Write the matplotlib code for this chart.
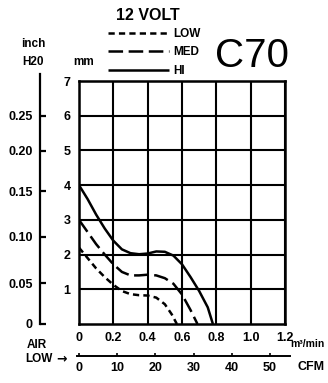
import matplotlib
matplotlib.use("Agg")
import matplotlib.pyplot as plt
from matplotlib.ticker import FixedLocator

plt.rcParams['font.family'] = ['Liberation Sans', 'DejaVu Sans']
plt.rcParams['lines.scale_dashes'] = False

# ---- data (airflow m3/min, static pressure mm H2O) ----
hi_x = [0.0, 0.05, 0.1, 0.15, 0.2, 0.25, 0.3, 0.35, 0.4, 0.45, 0.5, 0.55, 0.6, 0.65, 0.7, 0.75, 0.78]
hi_y = [4.0, 3.6, 3.15, 2.75, 2.4, 2.15, 2.04, 2.01, 2.03, 2.09, 2.08, 1.97, 1.72, 1.35, 0.95, 0.48, 0.0]
med_x = [0.0, 0.05, 0.1, 0.15, 0.2, 0.25, 0.3, 0.35, 0.4, 0.45, 0.5, 0.55, 0.6, 0.65, 0.69]
med_y = [3.0, 2.65, 2.3, 2.0, 1.72, 1.5, 1.4, 1.4, 1.42, 1.4, 1.32, 1.16, 0.85, 0.4, 0.0]
low_x = [0.0, 0.05, 0.1, 0.15, 0.2, 0.25, 0.3, 0.35, 0.4, 0.45, 0.5, 0.54, 0.57]
low_y = [2.2, 1.9, 1.6, 1.35, 1.13, 0.95, 0.86, 0.83, 0.82, 0.76, 0.57, 0.28, 0.0]

x_ticks = [0, 0.2, 0.4, 0.6, 0.8, 1.0, 1.2]
x_labels = ['0', '0.2', '0.4', '0.6', '0.8', '1.0', '1.2']
mm_ticks = [1, 2, 3, 4, 5, 6, 7]
inch_labels = ['0', '0.05', '0.10', '0.15', '0.20', '0.25']
inch_pos_mm = [0, 1.18, 2.52, 3.83, 4.99, 6.0]
cfm_ticks = [0, 10, 20, 30, 40, 50]

W, H = 328, 383
fig = plt.figure(figsize=(W / 100, H / 100), dpi=100)

def fx(px):
    return px / W

def fy(py):
    return 1 - py / H

# main axes
ax = fig.add_axes([fx(79), fy(324), fx(285) - fx(79), fy(81) - fy(324)])
ax.set_xlim(0, 1.2)
ax.set_ylim(0, 7)
ax.set_xticks(x_ticks)
ax.set_xticklabels(x_labels)
ax.set_yticks(mm_ticks)
ax.grid(True, color='black', linewidth=1.5)
for s in ax.spines.values():
    s.set_linewidth(1.8)
ax.tick_params(length=0, labelsize=9, pad=6)
ax.tick_params(axis='y', pad=6)
for lab in ax.get_xticklabels() + ax.get_yticklabels():
    lab.set_fontweight('bold')

l_low, = ax.plot(low_x, low_y, color='black', lw=1.8, dashes=(4.5, 3.0), label='LOW')
l_med, = ax.plot(med_x, med_y, color='black', lw=1.8, dashes=(10.5, 4.0), label='MED')
l_hi, = ax.plot(hi_x, hi_y, color='black', lw=1.8, label='HI')
for l in (l_low, l_med, l_hi):
    l.set_solid_capstyle('butt')
    l.set_dash_capstyle('butt')

# legend
leg = fig.legend(handles=[l_low, l_med, l_hi], loc='upper left',
                 bbox_to_anchor=(fx(108), fy(28)), frameon=False,
                 handlelength=5.2, handletextpad=0.3, labelspacing=0.55,
                 borderpad=0.0, borderaxespad=0.0,
                 prop={'weight': 'bold', 'size': 8.5})

# inch axis
axi = fig.add_axes([fx(39.5), fy(324), 0.02, fy(81) - fy(324)])
axi.set_ylim(0, 7)
axi.patch.set_visible(False)
for k in ('top', 'right', 'bottom'):
    axi.spines[k].set_visible(False)
axi.spines['left'].set_bounds(0, 7.2)
axi.spines['left'].set_linewidth(1.6)
axi.set_xticks([])
axi.yaxis.set_major_locator(FixedLocator(inch_pos_mm))
axi.set_yticklabels(inch_labels)
axi.yaxis.set_minor_locator(FixedLocator([0]))
axi.tick_params(axis='y', which='major', direction='in', length=4.5, width=1.6,
                labelsize=9, pad=5)
axi.tick_params(axis='y', which='minor', direction='out', length=4.5, width=1.6)
for lab in axi.get_yticklabels():
    lab.set_fontweight('bold')

# CFM axis
cfm_px_per = (270 - 79) / 50
cx0 = -0.6
cx1 = (290 - 79) / cfm_px_per
axc = fig.add_axes([fx(79 + cx0 * cfm_px_per), fy(356), fx(290) - fx(79 + cx0 * cfm_px_per), 0.0001])
axc.set_xlim(cx0, cx1)
axc.patch.set_visible(False)
for k in ('top', 'right', 'left'):
    axc.spines[k].set_visible(False)
axc.spines['bottom'].set_linewidth(1.4)
axc.set_yticks([])
axc.xaxis.set_major_locator(FixedLocator(cfm_ticks))
axc.set_xticklabels([str(v) for v in cfm_ticks])
axc.xaxis.set_minor_locator(FixedLocator([0]))
axc.tick_params(axis='x', which='major', direction='in', length=2.5, width=1.2,
                labelsize=9, pad=4)
axc.tick_params(axis='x', which='minor', direction='inout', length=9, width=1.4)
for lab in axc.get_xticklabels():
    lab.set_fontweight('bold')

# texts
fig.text(fx(148), fy(16), '12 VOLT', ha='center', va='center', fontsize=11.5, fontweight='bold')
fig.text(fx(252), fy(56), 'C70', ha='center', va='center', fontsize=29)
fig.text(fx(33), fy(44), 'inch', ha='center', va='center', fontsize=8.5, fontweight='bold')
fig.text(fx(33), fy(62), 'H20', ha='center', va='center', fontsize=8.5, fontweight='bold')
fig.text(fx(84), fy(62), 'mm', ha='center', va='center', fontsize=8.5, fontweight='bold')
fig.text(fx(37), fy(345), 'AIR', ha='center', va='center', fontsize=8.5, fontweight='bold')
fig.text(fx(53), fy(359), 'LOW', ha='right', va='center', fontsize=8.5, fontweight='bold')
fig.text(fx(56), fy(358.5), '\u2192', ha='left', va='center', fontsize=9, fontweight='bold',
         family=['DejaVu Sans'])
fig.text(fx(307), fy(344), 'm\u00b3/min', ha='center', va='center', fontsize=7.5, fontweight='bold')
fig.text(fx(311), fy(367), 'CFM', ha='center', va='center', fontsize=9, fontweight='bold')

fig.savefig('out.png', dpi=100)
